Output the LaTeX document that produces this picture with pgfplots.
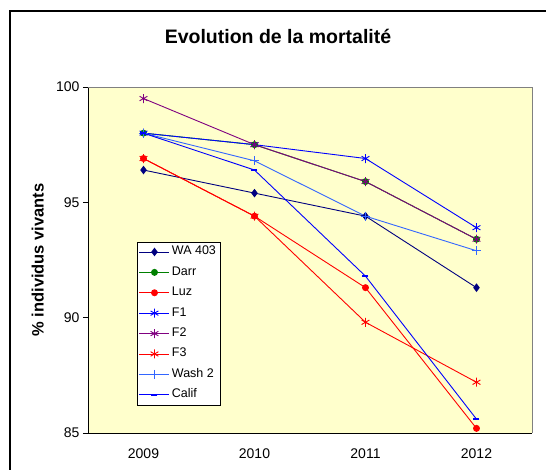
\documentclass[border=0pt]{standalone}
\usepackage{fontspec}
\setmainfont{Liberation Sans}
\usepackage{pgfplots}
\pgfplotsset{compat=1.18}
\definecolor{plotbg}{HTML}{FFFFCC}
\definecolor{navyc}{HTML}{000080}
\definecolor{darrc}{HTML}{008000}
\definecolor{purplec}{HTML}{800080}
\definecolor{washc}{HTML}{3366FF}
\begin{document}
\begin{tikzpicture}[x=1pt,y=1pt]
\useasboundingbox (0,0) rectangle (546,470);
\begin{scope}
  \clip (0,0) rectangle (546,470);
  \draw[line width=1.1pt] (10,-20) -- (10,459) -- (580,459);
\end{scope}
\begin{axis}[
  at={(88pt,37pt)}, anchor=south west,
  scale only axis, width=444pt, height=346pt,
  xmin=0.5, xmax=4.5, ymin=85, ymax=100,
  axis x line*=bottom, axis y line*=left,
  axis line style={black, line width=0.8pt},
  axis background/.style={fill=plotbg},
  xtick={1,2,3,4}, xticklabels={2009,2010,2011,2012},
  minor xtick={0.5,1.5,2.5,3.5,4.5},
  ytick={85,90,95,100},
  tick align=outside, major tick length=5pt, minor tick length=5pt,
  xtick style={draw=none},
  minor x tick style={black, line width=0.8pt},
  y tick style={black, line width=0.8pt},
  /pgf/number format/assume math mode=true,
  ticklabel style={font=\fontsize{14}{16}\selectfont},
  xticklabel style={yshift=-7pt},
  title={\bfseries Evolution de la mortalité},
  title style={font=\fontsize{19.5}{23}\selectfont, at={(axis description cs:0.428,1.13)}, anchor=center},
  ylabel={\% individus vivants},
  ylabel style={font=\fontsize{16.5}{19}\selectfont\bfseries, at={(axis description cs:-0.113,0.5)}, anchor=center},
  clip=false,
  legend style={at={(0.110,0.081)}, anchor=south west, draw=black, fill=white,
    font=\fontsize{12.5}{14}\selectfont, row sep=8.4pt, inner xsep=2pt, inner ysep=4pt,
    nodes={text height=9pt, text depth=3pt, inner xsep=2pt, inner ysep=0pt}},
  legend cell align=left,
  legend image code/.code={\draw[mark repeat=2,mark phase=2] plot coordinates {(0pt,0pt)(15pt,0pt)(30pt,0pt)};},
  every axis plot/.append style={line width=0.9pt},
]
\addplot[color=navyc, mark=diamond*, mark size=3.6pt] coordinates {(1,96.4)(2,95.4)(3,94.4)(4,91.3)};
\addlegendentry{WA 403}
\addplot[color=darrc, mark=*, mark size=3pt] coordinates {(1,98.0)(2,97.5)(3,95.9)(4,93.4)};
\addlegendentry{Darr}
\addplot[color=red, mark=*, mark size=3pt] coordinates {(1,96.9)(2,94.4)(3,91.3)(4,85.2)};
\addlegendentry{Luz}
\addplot[color=blue, mark=asterisk, mark size=4.5pt] coordinates {(1,98.0)(2,97.5)(3,96.9)(4,93.9)};
\addlegendentry{F1}
\addplot[color=purplec, mark=asterisk, mark size=4.5pt] coordinates {(1,99.5)(2,97.5)(3,95.9)(4,93.4)};
\addlegendentry{F2}
\addplot[color=red, mark=asterisk, mark size=4.5pt] coordinates {(1,96.9)(2,94.4)(3,89.8)(4,87.2)};
\addlegendentry{F3}
\addplot[color=washc, mark=+, mark size=4.5pt] coordinates {(1,98.0)(2,96.8)(3,94.4)(4,92.9)};
\addlegendentry{Wash 2}
\addplot[color=blue, mark=-, mark size=3pt, mark options={line width=2pt}] coordinates {(1,98.0)(2,96.4)(3,91.8)(4,85.6)};
\addlegendentry{Calif}
\draw[gray, line width=0.8pt] (rel axis cs:0,1) -- (rel axis cs:1,1) -- (rel axis cs:1,0);
\end{axis}
\end{tikzpicture}
\end{document}
